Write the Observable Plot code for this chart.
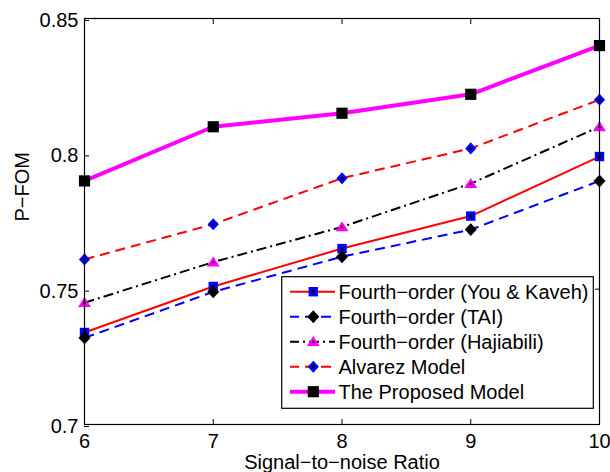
<!DOCTYPE html>
<html><head><meta charset="utf-8">
<script src="https://cdn.jsdelivr.net/npm/d3@7"></script>
<script src="https://cdn.jsdelivr.net/npm/@observablehq/plot@0.6"></script>
<style>html,body{margin:0;padding:0;background:#fff;} #chart{width:610px;height:472px;}</style>
</head><body><div id="chart"></div>
<script>
// ---- data ----
const snr = [6, 7, 8, 9, 10];
const youKaveh  = [0.734, 0.751, 0.765, 0.777, 0.799];
const tai       = [0.732, 0.749, 0.762, 0.772, 0.790];
const hajiabili = [0.745, 0.760, 0.773, 0.789, 0.810];
const alvarez   = [0.761, 0.774, 0.791, 0.802, 0.820];
const proposed  = [0.790, 0.810, 0.815, 0.822, 0.840];
const seriesNames = ["Fourth−order (You & Kaveh)", "Fourth−order (TAI)", "Fourth−order (Hajiabili)", "Alvarez Model", "The Proposed Model"];
const xTicks = [6, 7, 8, 9, 10];
const yTicks = [0.7, 0.75, 0.8, 0.85];
const yTickLabels = ["0.7", "0.75", "0.8", "0.85"];
const xLabel = "Signal−to−noise Ratio";
const yLabel = "P−FOM";

// ---- custom marker shapes ----
const rad = s => Math.sqrt(s / Math.PI);
const sq = {draw(c, s) { const r = rad(s); c.moveTo(-r, -r); c.lineTo(r, -r); c.lineTo(r, r); c.lineTo(-r, r); c.closePath(); }};
const dia = {draw(c, s) { const r = rad(s); c.moveTo(0, -r * 1.08); c.lineTo(r, 0); c.lineTo(0, r * 1.08); c.lineTo(-r, 0); c.closePath(); }};
const tri = {draw(c, s) { const r = rad(s); c.moveTo(0, -r * 0.88); c.lineTo(r, r * 0.68); c.lineTo(-r, r * 0.68); c.closePath(); }};

const allValues = [youKaveh, tai, hajiabili, alvarez, proposed];
const styles = [
  {stroke: "#ff0000", width: 2, dash: null, sym: sq, r: 4.7, fill: "#0000ff", inner: {sym: sq, r: 1.5}},
  {stroke: "#0000ff", width: 2, dash: "10,6", sym: dia, r: 6, fill: "#000000", inner: null},
  {stroke: "#000000", width: 2, dash: "10,4,2,4", sym: tri, r: 6.5, fill: "#ff00ff", inner: {sym: tri, r: 1.8}},
  {stroke: "#ff0000", width: 2, dash: "10,6", sym: dia, r: 5.6, fill: "#0000ff", inner: {sym: dia, r: 2}},
  {stroke: "#ff00ff", width: 4, dash: null, sym: sq, r: 5.6, fill: "#000000", inner: null}
];

const FS = 20;
const marks = [];
allValues.forEach((vals, i) => {
  const st = styles[i];
  const rows = snr.map((x, j) => ({x, y: vals[j]}));
  marks.push(Plot.line(rows, {x: "x", y: "y", stroke: st.stroke, strokeWidth: st.width, strokeDasharray: st.dash, strokeLinecap: "butt", strokeLinejoin: "miter"}));
  marks.push(Plot.dot(rows, {x: "x", y: "y", symbol: st.sym, r: st.r, fill: st.fill}));
  if (st.inner) marks.push(Plot.dot(rows, {x: "x", y: "y", symbol: st.inner.sym, r: st.inner.r, fill: "#000000"}));
});

const plot = Plot.plot({
  width: 610, height: 472,
  marginLeft: 84, marginRight: 11, marginTop: 18, marginBottom: 48,
  style: {fontFamily: "'Liberation Sans', Arial, Helvetica, sans-serif", fontSize: FS + "px", color: "black", background: "white", overflow: "visible"},
  x: {domain: [6, 10]},
  y: {domain: [0.7, 0.85]},
  marks: [
    Plot.axisX(xTicks, {anchor: "bottom", tickSize: -5, tickPadding: 14.5, fontSize: FS, label: null, tickFormat: d => String(d)}),
    Plot.axisX(xTicks, {anchor: "top", tickSize: -5, label: null, tickFormat: () => ""}),
    Plot.axisY(yTicks, {anchor: "left", tickSize: -5, tickPadding: 11, fontSize: FS, label: null, dy: 2, tickFormat: d => yTickLabels[yTicks.indexOf(d)]}),
    Plot.axisY(yTicks, {anchor: "right", tickSize: -5, label: null, tickFormat: () => ""}),
    ...marks,
    Plot.frame({stroke: "black", strokeWidth: 1.2}),
    Plot.text([xLabel], {frameAnchor: "bottom", lineAnchor: "bottom", dy: 44, text: d => d, fontSize: FS}),
    Plot.text([yLabel], {frameAnchor: "left", rotate: -90, dx: -62, text: d => d, fontSize: FS})
  ]
});
document.getElementById("chart").appendChild(plot);

// ---- legend overlay ----
const svg = d3.select(plot);
const lg = svg.append("g").attr("class", "legend").attr("text-anchor", "start");
const box = {x: 281.7, y: 276.7, w: 311.6, h: 131.6};
lg.append("rect").attr("x", box.x).attr("y", box.y).attr("width", box.w).attr("height", box.h)
  .attr("fill", "white").attr("stroke", "black").attr("stroke-width", 1.2);
seriesNames.forEach((name, i) => {
  const st = styles[i];
  const cy = 291.7 + 25 * i;
  lg.append("line").attr("x1", 290).attr("x2", 335).attr("y1", cy).attr("y2", cy)
    .attr("stroke", st.stroke).attr("stroke-width", st.width)
    .attr("stroke-dasharray", st.dash).attr("stroke-dashoffset", st.dash ? 1 : null);
  lg.append("path").attr("transform", `translate(313.3,${cy})`)
    .attr("d", d3.symbol(st.sym, Math.PI * st.r * st.r)()).attr("fill", st.fill);
  if (st.inner) lg.append("path").attr("transform", `translate(313.3,${cy})`)
    .attr("d", d3.symbol(st.inner.sym, Math.PI * st.inner.r * st.inner.r)()).attr("fill", "#000");
  lg.append("text").attr("x", 338.5).attr("y", cy).attr("dy", "0.37em").attr("text-anchor", "start")
    .style("font-size", FS + "px").attr("fill", "black").text(name);
});
</script>
</body></html>
